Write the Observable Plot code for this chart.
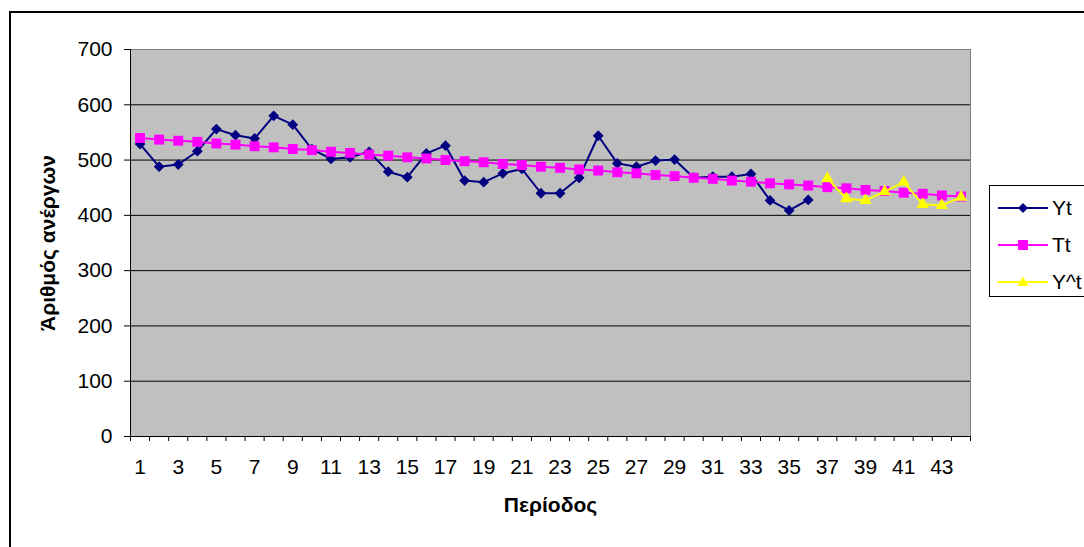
<!DOCTYPE html>
<html>
<head>
<meta charset="utf-8">
<script src="https://cdn.jsdelivr.net/npm/d3@7"></script>
<script src="https://cdn.jsdelivr.net/npm/@observablehq/plot@0.6"></script>
<style>
  html, body { margin: 0; padding: 0; background: #fff; overflow: hidden; }
  #wrap { position: relative; width: 1084px; height: 547px; font-family: "Liberation Sans", Arial, sans-serif; }
  #frame { position: absolute; left: 9px; top: 11px; width: 1200px; height: 700px; border: 2px solid #000; box-sizing: border-box; pointer-events: none; }
  #chart { position: absolute; left: 0; top: 0; }
  #chart svg text { font-size: 21px; font-family: "Liberation Sans", Arial, sans-serif; fill: #000; }
  #legend { position: absolute; left: 989px; top: 185px; width: 200px; height: 112px; border: 1px solid #000; background: #fff; box-sizing: border-box; }
  .item { position: absolute; left: 0; height: 24px; }
  .item svg { position: absolute; left: 8px; top: 2px; }
  .item span { position: absolute; left: 62px; top: 0; font-size: 21px; line-height: 24px; color: #000; white-space: nowrap; }
</style>
</head>
<body>
<div id="wrap">
  <div id="chart"></div>
  <div id="frame"></div>
  <div id="legend"></div>
</div>
<script>
// ---- data ----
const periods = d3.range(1, 45);                  // 1..44
const xTickLabels = periods.filter(p => p % 2 === 1);
const yTicks = [0, 100, 200, 300, 400, 500, 600, 700];

const ytPeriods = d3.range(1, 37);
const ytValues = [529, 488, 492, 516, 556, 545, 539, 580, 564, 520, 502, 505, 515, 479, 469, 512, 526, 463,
                  460, 476, 484, 440, 440, 468, 544, 494, 488, 499, 501, 468, 470, 470, 475, 427, 409, 428];

const ttValues = [540, 537, 535, 533, 530, 528, 525, 523, 520, 518, 515, 513, 510, 508, 505, 503, 500, 498,
                  496, 493, 491, 488, 486, 483, 481, 478, 476, 473, 471, 468, 466, 463, 461, 458, 456, 454,
                  451, 449, 446, 444, 441, 439, 436, 434];

const yhPeriods = d3.range(37, 45);
const yhValues = [467, 430, 427, 443, 460, 420, 418, 433];

const seriesNames = ["Yt", "Tt", "Y^t"];
const seriesColors = ["#000080", "#FF00FF", "#FFFF00"];

// ---- tables ----
const yt = ytPeriods.map((p, i) => ({p, v: ytValues[i]}));
const tt = periods.map((p, i) => ({p, v: ttValues[i]}));
const yh = yhPeriods.map((p, i) => ({p, v: yhValues[i]}));
const boundaries = periods.map(p => p - 0.5).concat([periods[periods.length - 1] + 0.5]);
const gridTicks = yTicks.filter(t => t > 0 && t < 700);

const diamond = {
  draw(ctx, size) {
    const r = Math.sqrt(size / 2);
    ctx.moveTo(0, -r); ctx.lineTo(r, 0); ctx.lineTo(0, r); ctx.lineTo(-r, 0); ctx.closePath();
  }
};

const chart = Plot.plot({
  width: 1084,
  height: 547,
  marginLeft: 130,
  marginRight: 114,
  marginTop: 49,
  marginBottom: 111,
  style: {fontFamily: "Liberation Sans, Arial, sans-serif", fontSize: "21px", color: "#000", background: "transparent", overflow: "visible"},
  x: {type: "linear", domain: [0.5, 44.5]},
  y: {type: "linear", domain: [0, 700]},
  marks: [
    Plot.frame({fill: "#C0C0C0", stroke: "#808080", strokeWidth: 1}),
    Plot.ruleY(gridTicks, {stroke: "#000", strokeWidth: 1}),
    Plot.ruleY([0], {stroke: "#000", strokeWidth: 1}),
    Plot.ruleX([0.5], {stroke: "#000", strokeWidth: 1}),
    Plot.axisY({ticks: yTicks, tickSize: 6, tickPadding: 12, label: null, tickFormat: d => String(d), fontSize: 21}),
    Plot.axisX({ticks: boundaries, tickSize: 5, tickFormat: () => "", label: null}),
    Plot.axisX({ticks: xTickLabels, tickSize: 0, tickPadding: 23, label: null, tickFormat: d => String(d), fontSize: 21}),
    Plot.text(["Άριθμός ανέργων"], {frameAnchor: "left", textAnchor: "middle", rotate: -90, dx: -82, fontWeight: "bold", fontSize: 21}),
    Plot.text(["Περίοδος"], {frameAnchor: "bottom", dy: 75, fontWeight: "bold", fontSize: 21}),
    Plot.line(yt, {x: "p", y: "v", stroke: seriesColors[0], strokeWidth: 2}),
    Plot.dot(yt, {x: "p", y: "v", symbol: diamond, r: 4.3, fill: seriesColors[0], stroke: "none"}),
    Plot.line(tt, {x: "p", y: "v", stroke: seriesColors[1], strokeWidth: 2}),
    Plot.dot(tt, {x: "p", y: "v", symbol: "square", r: 5.6, fill: seriesColors[1], stroke: "none"}),
    Plot.line(yh, {x: "p", y: "v", stroke: seriesColors[2], strokeWidth: 2}),
    Plot.dot(yh, {x: "p", y: "v", symbol: "triangle", r: 4.6, fill: seriesColors[2], stroke: "none"})
  ]
});
document.getElementById("chart").appendChild(chart);

// ---- legend ----
const legend = document.getElementById("legend");
const symbolPaths = [
  "M25,5 L30,10 L25,15 L20,10 Z",
  "M20,5 L30,5 L30,15 L20,15 Z",
  "M25,4.5 L30.5,14 L19.5,14 Z"
];
seriesNames.forEach((name, i) => {
  const item = document.createElement("div");
  item.className = "item";
  item.style.top = (10 + i * 37) + "px";
  item.innerHTML = `<svg width="50" height="20"><line x1="0" x2="50" y1="10" y2="10" stroke="${seriesColors[i]}" stroke-width="2"/><path d="${symbolPaths[i]}" fill="${seriesColors[i]}"/></svg><span>${name}</span>`;
  legend.appendChild(item);
});
</script>
</body>
</html>
